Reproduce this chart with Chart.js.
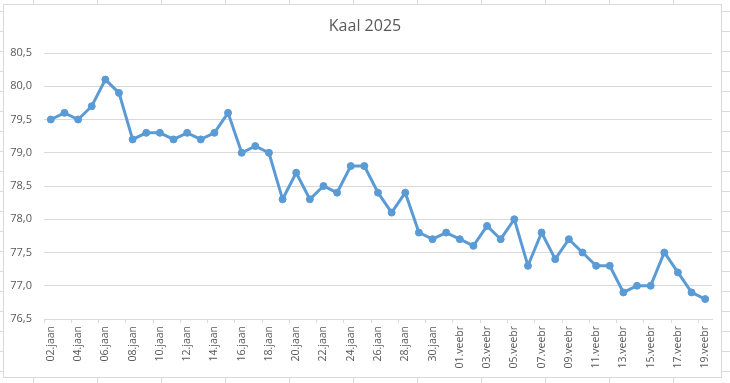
<!DOCTYPE html>
<html>
<head>
<meta charset="utf-8">
<script src="https://cdn.jsdelivr.net/npm/chart.js@4"></script>
<style>
  html, body { margin: 0; padding: 0; background: #ffffff; }
  #wrap { width: 730px; height: 383px; position: relative; }
</style>
</head>
<body>
<div id="wrap"><canvas id="c" width="730" height="383"></canvas></div>
<script>
// ---- data ----
const chartTitle = "Kaal 2025";
const dates = [
  "02.jaan","03.jaan","04.jaan","05.jaan","06.jaan","07.jaan","08.jaan","09.jaan","10.jaan",
  "11.jaan","12.jaan","13.jaan","14.jaan","15.jaan","16.jaan","17.jaan","18.jaan","19.jaan",
  "20.jaan","21.jaan","22.jaan","23.jaan","24.jaan","25.jaan","26.jaan","27.jaan","28.jaan",
  "29.jaan","30.jaan","31.jaan",
  "01.veebr","02.veebr","03.veebr","04.veebr","05.veebr","06.veebr","07.veebr","08.veebr",
  "09.veebr","10.veebr","11.veebr","12.veebr","13.veebr","14.veebr","15.veebr","16.veebr",
  "17.veebr","18.veebr","19.veebr"
];
const weights = [
  79.5, 79.6, 79.5, 79.7, 80.1, 79.9, 79.2, 79.3, 79.3,
  79.2, 79.3, 79.2, 79.3, 79.6, 79.0, 79.1, 79.0, 78.3,
  78.7, 78.3, 78.5, 78.4, 78.8, 78.8, 78.4, 78.1, 78.4,
  77.8, 77.7, 77.8,
  77.7, 77.6, 77.9, 77.7, 78.0, 77.3, 77.8, 77.4,
  77.7, 77.5, 77.3, 77.3, 76.9, 77.0, 77.0, 77.5,
  77.2, 76.9, 76.8
];
const yMin = 76.5, yMax = 80.5, yStep = 0.5;

const textColor = "#595959";
const gridColor = "#d9d9d9";
const lineColor = "#5b9bd5";
const fontFamily = "'Open Sans', 'Liberation Sans', sans-serif";

const framePlugin = {
  id: "frame",
  beforeDraw(chart) {
    const ctx = chart.ctx;
    const W = chart.width, H = chart.height;
    ctx.save();
    ctx.fillStyle = "#ffffff";
    ctx.fillRect(0, 0, W, H);
    // spreadsheet cell lines visible around the chart
    ctx.strokeStyle = "#dadada";
    ctx.lineWidth = 1;
    ctx.beginPath();
    for (let x = 33; x < W; x += 64) {
      ctx.moveTo(x + 0.5, 0); ctx.lineTo(x + 0.5, 4);
      ctx.moveTo(x + 0.5, 378); ctx.lineTo(x + 0.5, H);
    }
    for (let y = 11; y < H; y += 20) {
      ctx.moveTo(0, y + 0.5); ctx.lineTo(3, y + 0.5);
      ctx.moveTo(722, y + 0.5); ctx.lineTo(W, y + 0.5);
    }
    ctx.stroke();
    // chart border
    ctx.strokeStyle = "#d9d9d9";
    ctx.strokeRect(3.5, 4.5, 718, 373);
    ctx.restore();
  }
};

new Chart(document.getElementById("c"), {
  type: "line",
  data: {
    labels: dates,
    datasets: [{
      data: weights,
      borderColor: lineColor,
      backgroundColor: lineColor,
      borderWidth: 3,
      pointRadius: 3.5,
      pointBorderWidth: 1,
      pointBackgroundColor: lineColor,
      pointBorderColor: lineColor,
      tension: 0,
      fill: false
    }]
  },
  options: {
    responsive: false,
    animation: false,
    devicePixelRatio: 1,
    layout: { padding: { left: 0, right: 0, top: 0, bottom: 0 } },
    plugins: {
      legend: { display: false },
      tooltip: { enabled: false },
      title: {
        display: true,
        text: chartTitle,
        color: textColor,
        font: { family: fontFamily, size: 16, weight: "normal", lineHeight: 1.2 },
        padding: { top: 17, bottom: 16.8 }
      }
    },
    scales: {
      x: {
        type: "category",
        offset: true,
        grid: {
          offset: true,
          drawOnChartArea: false,
          drawTicks: true,
          tickLength: 4,
          tickColor: (c) => (c.index % 2 === 0 ? gridColor : "rgba(0,0,0,0)"),
          color: gridColor
        },
        border: { display: true, color: gridColor, width: 1 },
        ticks: {
          autoSkip: false,
          maxRotation: 90,
          minRotation: 90,
          padding: 3,
          color: textColor,
          font: { family: fontFamily, size: 10.5 },
          callback: function (v, i) { return i % 2 === 0 ? this.getLabelForValue(v) : ""; }
        },
        afterFit: (s) => { s.height = 64; }
      },
      y: {
        min: yMin,
        max: yMax,
        grid: { color: gridColor, drawTicks: false, tickLength: 0 },
        border: { display: false },
        ticks: {
          stepSize: yStep,
          padding: 12,
          color: textColor,
          font: { family: fontFamily, size: 11 },
          callback: (v) => Number(v).toFixed(1).replace(".", ",")
        },
        afterFit: (s) => { s.width = 44; }
      },
      yRightSpace: {
        type: "linear",
        position: "right",
        min: yMin,
        max: yMax,
        grid: { display: false, drawOnChartArea: false, drawTicks: false },
        border: { display: false },
        ticks: { display: false },
        afterFit: (s) => { s.width = 18; }
      }
    }
  },
  plugins: [framePlugin]
});
</script>
</body>
</html>
